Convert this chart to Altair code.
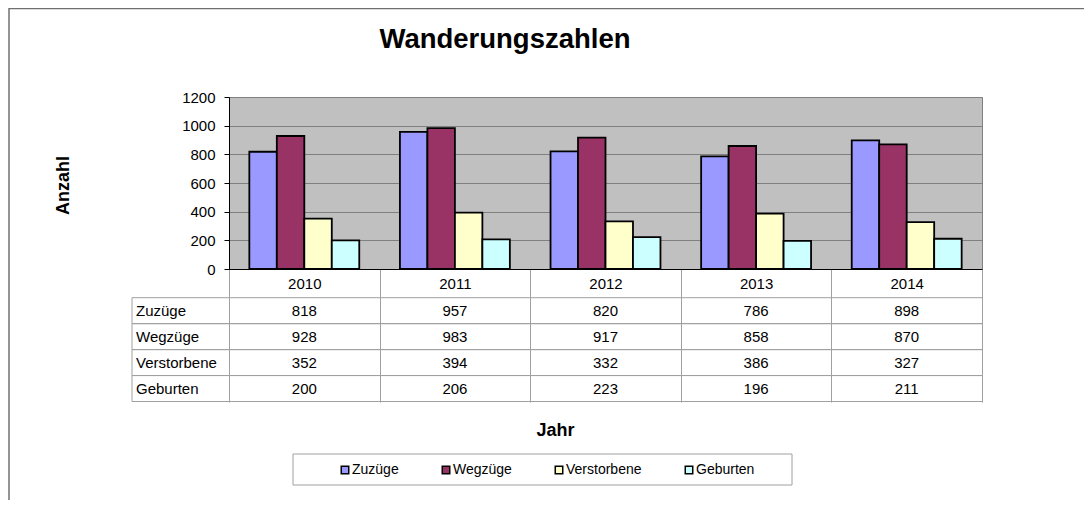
import altair as alt
import pandas as pd

years = ["2010", "2011", "2012", "2013", "2014"]
series = ["Zuzüge", "Wegzüge", "Verstorbene", "Geburten"]
zuzuege = [818, 957, 820, 786, 898]
wegzuege = [928, 983, 917, 858, 870]
verstorbene = [352, 394, 332, 386, 327]
geburten = [200, 206, 223, 196, 211]
colors = ["#9999FF", "#993366", "#FFFFCC", "#CCFFFF"]
y_ticks = [0, 200, 400, 600, 800, 1000, 1200]
title_text = "Wanderungszahlen"

records = []
for s, vals in zip(series, [zuzuege, wegzuege, verstorbene, geburten]):
    for yr, v in zip(years, vals):
        records.append({"Jahr": yr, "Serie": s, "Anzahl": v})
df = pd.DataFrame(records)
one = pd.DataFrame({"t": [0]})

W, H = 753, 172
FONT = "Liberation Sans"

x_enc = alt.X(
    "Jahr:N", sort=years,
    scale=alt.Scale(domain=years, paddingInner=0, paddingOuter=0),
    axis=alt.Axis(
        title="Jahr", titleFont=FONT, titleFontSize=18, titleFontWeight="bold",
        titleColor="black", titleX=326, titleY=161, titleBaseline="middle",
        labelAngle=0, labelFont=FONT, labelFontSize=15, labelColor="black",
        labelBaseline="middle", labelPadding=-118.5,
        tickBand="extent", tickSize=133, tickColor="#a0a0a0", tickWidth=1,
        domainColor="black", domainWidth=1, grid=False,
    ),
)

bars = alt.Chart(df).mark_bar(stroke="black", strokeWidth=1.8).encode(
    x=x_enc,
    xOffset=alt.XOffset("Serie:N", sort=series,
                        scale=alt.Scale(domain=series, paddingInner=0, paddingOuter=0.74)),
    y=alt.Y("Anzahl:Q", scale=alt.Scale(domain=[0, 1200], nice=False),
            axis=alt.Axis(values=y_ticks, format="d", title="Anzahl", titleFont=FONT, titleFontSize=18,
                          titleFontWeight="bold", titleColor="black", titleAngle=270,
                          titleX=-166, titleY=88, titleBaseline="middle", titleAlign="center",
                          labelFont=FONT, labelFontSize=15, labelColor="black", labelPadding=9,
                          tickSize=5, tickColor="black", domainColor="black",
                          grid=True, gridColor="#808080", gridWidth=1)),
    color=alt.Color("Serie:N", sort=series, scale=alt.Scale(domain=series, range=colors),
                    legend=alt.Legend(orient="none", legendX=109, legendY=366,
                                      direction="horizontal", columns=4, title=None,
                                      symbolType="square", symbolSize=56,
                                      symbolStrokeColor="black", symbolStrokeWidth=1.5,
                                      labelFont=FONT, labelFontSize=14, labelColor="black",
                                      labelOffset=0, columnPadding=40)),
)

row_scale = alt.Scale(domain=series, range=[200.7, 304.5], paddingInner=0, paddingOuter=0)

cells = alt.Chart(df).mark_text(font=FONT, fontSize=15, color="black", baseline="middle").encode(
    x=x_enc,
    y=alt.Y("Serie:N", scale=row_scale, axis=None),
    text="Anzahl:Q",
)

row_labels = alt.Chart(pd.DataFrame({"Serie": series})).mark_text(
    font=FONT, fontSize=15, color="black", align="left", baseline="middle").encode(
    x=alt.value(-93),
    y=alt.Y("Serie:N", scale=row_scale, axis=None),
    text="Serie:N",
)

row_top = alt.Chart(pd.DataFrame({"Serie": series})).mark_rule(color="#a0a0a0", strokeWidth=1).encode(
    y=alt.Y("Serie:N", scale=row_scale, axis=None, bandPosition=0),
    x=alt.value(-97), x2=alt.value(W),
)
row_bottom = alt.Chart(pd.DataFrame({"Serie": series})).mark_rule(color="#a0a0a0", strokeWidth=1).encode(
    y=alt.Y("Serie:N", scale=row_scale, axis=None, bandPosition=1),
    x=alt.value(-97), x2=alt.value(W),
)
left_border = alt.Chart(one).mark_rule(color="#a0a0a0", strokeWidth=1).encode(
    x=alt.value(-97), y=alt.value(200.7), y2=alt.value(304.5),
)

legend_box = alt.Chart(one).mark_rect(fill="white", stroke="#a0a0a0", strokeWidth=1).encode(
    x=alt.value(64), x2=alt.value(563), y=alt.value(357), y2=alt.value(388),
)

title = alt.Chart(one).mark_text(font=FONT, fontSize=27.5, fontWeight="bold", color="black",
                                 align="center", baseline="middle").encode(
    x=alt.value(276), y=alt.value(-57), text=alt.value(title_text),
)

frame_top = alt.Chart(one).mark_rule(color="#707070", strokeWidth=1.5).encode(
    x=alt.value(-220), x2=alt.value(W + 110), y=alt.value(-88.5),
)
frame_left = alt.Chart(one).mark_rule(color="#707070", strokeWidth=1.5).encode(
    x=alt.value(-220), y=alt.value(-89), y2=alt.value(410),
)

chart = alt.layer(
    frame_top, frame_left, legend_box, title, row_top, row_bottom, left_border,
    bars, cells, row_labels,
).resolve_scale(y="independent").properties(
    width=W, height=H,
    padding={"left": 221, "top": 89, "right": 102, "bottom": 231},
    autosize="none",
    background="white",
).configure_view(fill="#C0C0C0", stroke="#808080", strokeWidth=1)

chart.save("out.html", embed_options={"renderer": "svg", "actions": False})
